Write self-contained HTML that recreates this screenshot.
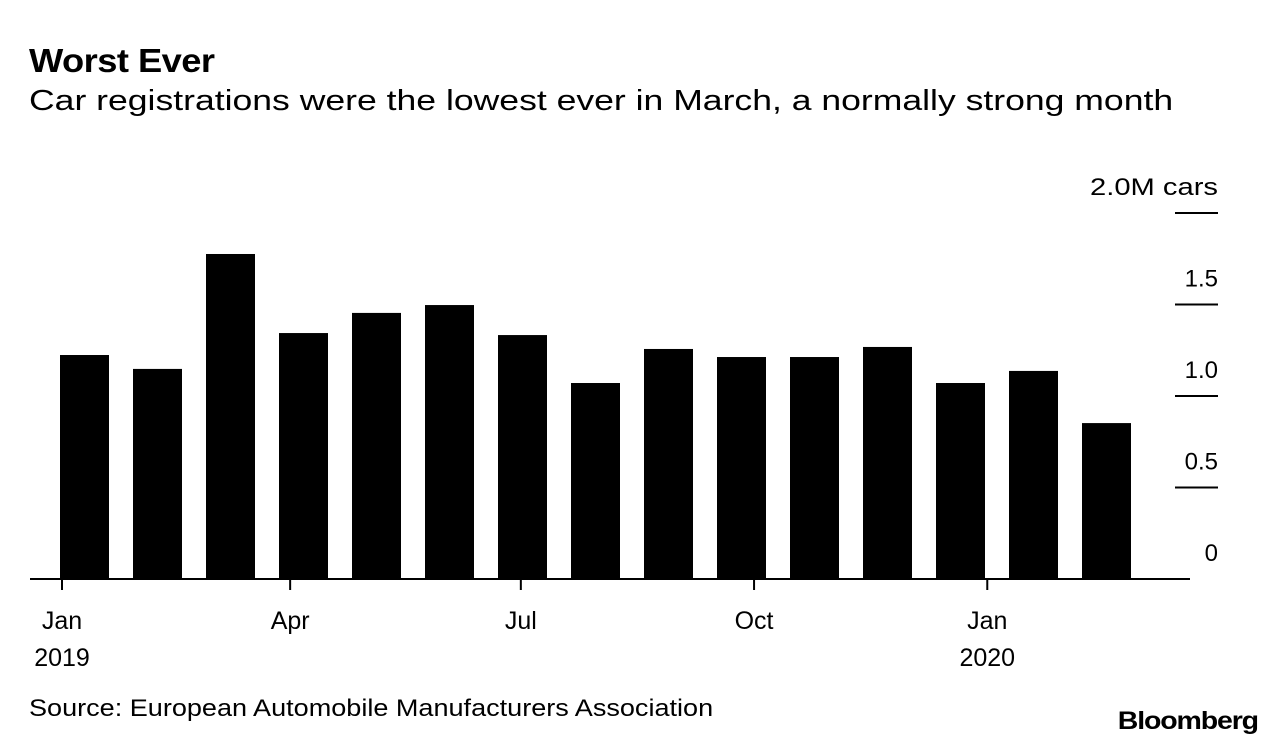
<!DOCTYPE html>
<html><head><meta charset="utf-8"><style>
body{margin:0;background:#fff;width:1285px;height:748px;overflow:hidden;font-family:"Liberation Sans",Arial,sans-serif;}
.t{position:absolute;white-space:nowrap;color:#000}
</style></head><body>
<div class="t" style="left:29px;top:42px;font-size:33px;font-weight:bold;letter-spacing:-0.5px;transform:scaleX(1.1);transform-origin:left">Worst Ever</div>
<div class="t" style="left:29px;top:85px;font-size:29px;transform:scaleX(1.226);transform-origin:left">Car registrations were the lowest ever in March, a normally strong month</div>
<svg id="c" width="1285" height="748" style="position:absolute;left:0;top:0"></svg>
<div class="t" style="left:29px;top:695px;font-size:24px;transform:scaleX(1.127);transform-origin:left">Source: European Automobile Manufacturers Association</div>
<div class="t" style="right:27px;top:707px;font-size:25px;font-weight:bold;letter-spacing:-1px;transform:scaleX(1.14);transform-origin:right">Bloomberg</div>
<script>
const months=["2019-01","2019-02","2019-03","2019-04","2019-05","2019-06","2019-07","2019-08","2019-09","2019-10","2019-11","2019-12","2020-01","2020-02","2020-03"];
const values=[1.224,1.148,1.776,1.344,1.454,1.497,1.333,1.071,1.257,1.213,1.213,1.268,1.071,1.137,0.852];
const yTicks=[0,0.5,1.0,1.5,2.0];
const yTickLabels=["0","0.5","1.0","1.5","2.0M cars"];
const xTickIdx=[0,3,6,9,12];
const xTickLabels=[["Jan","2019"],["Apr",""],["Jul",""],["Oct",""],["Jan","2020"]];
const NS="http://www.w3.org/2000/svg";
const svg=document.getElementById('c');
const base=579, pxPerM=183;
const y=v=>base-v*pxPerM;
const xBar=i=>60+73*i;
const barW=49;
const t0=Date.UTC(2019,0,1);
const xDate=m=>{const [yy,mm]=m.split('-').map(Number);return 62+(Date.UTC(yy,mm-1,1)-t0)/864e5*2.535;};
function mk(tag,attrs){const e=document.createElementNS(NS,tag);for(const k in attrs)e.setAttribute(k,attrs[k]);svg.appendChild(e);return e;}
values.forEach((v,i)=>{
  const r=mk('rect',{x:xBar(i),y:y(v),width:barW,height:base-y(v),fill:'#000'});
  
  
});
yTicks.forEach((v,i)=>{
  if(v>0){const l=mk('line',{x1:1175,x2:1218,y1:y(v),y2:y(v),stroke:'#000','stroke-width':2});
  
  }
  const a={x:1218,y:y(v)-18,'text-anchor':'end','font-size':24,'font-family':'Liberation Sans, Arial, sans-serif'};
  if(i===yTicks.length-1){a.textLength=128;a.lengthAdjust='spacingAndGlyphs';}
  const t=mk('text',a);
  t.textContent=yTickLabels[i];
  
  
});
const ax=mk('line',{x1:30,x2:1190,y1:base,y2:base,stroke:'#000','stroke-width':2});


xTickIdx.forEach((idx,k)=>{
  const x=xDate(months[idx]);
  const l=mk('line',{x1:x,x2:x,y1:base,y2:base+11,stroke:'#000','stroke-width':2});
  
  
  xTickLabels[k].forEach((s,j)=>{
    if(!s)return;
    const t=mk('text',{x:x,y:629+j*37,'text-anchor':'middle','font-size':25,'font-family':'Liberation Sans, Arial, sans-serif'});
    t.textContent=s;
    
    
  });
});
</script>
</body></html>
